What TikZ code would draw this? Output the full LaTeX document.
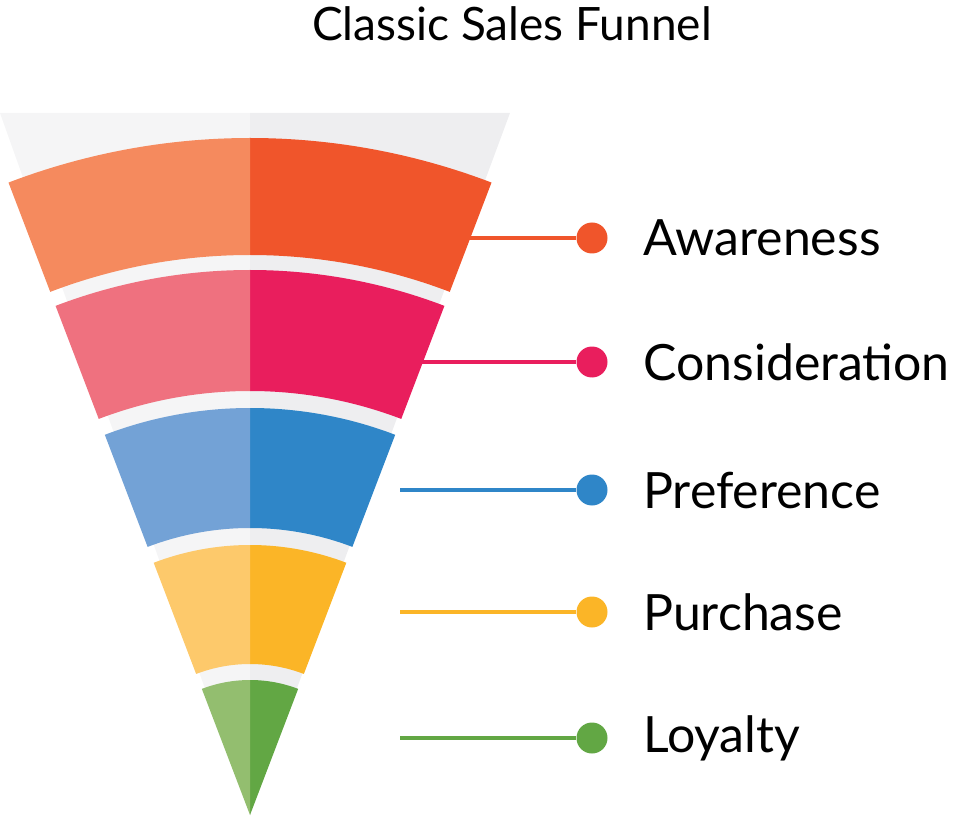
\documentclass[tikz,border=0pt]{standalone}
\usepackage{fontspec}
\setmainfont{Lato}
\begin{document}
\begin{tikzpicture}[x=1pt,y=1pt,
  conn/.style={line width=4pt},
  lbl/.style={anchor=west,font=\fontsize{50}{50}\selectfont,inner sep=0pt}]
\useasboundingbox (0,0) rectangle (980,-818);
\definecolor{grayL}{HTML}{F5F5F6}\definecolor{grayR}{HTML}{EEEEF0}
\definecolor{oL}{HTML}{F58A5E}\definecolor{oR}{HTML}{F0552B}
\definecolor{pL}{HTML}{EF717F}\definecolor{pR}{HTML}{E91E5D}
\definecolor{bL}{HTML}{73A2D6}\definecolor{bR}{HTML}{2F86C8}
\definecolor{yL}{HTML}{FDC96B}\definecolor{yR}{HTML}{FBB527}
\definecolor{gL}{HTML}{93BE6F}\definecolor{gR}{HTML}{62A744}
\node[font=\fontsize{46}{46}\selectfont] (title) at (512,-24) {Classic Sales Funnel};
\fill[grayL] (250,-815) -- (0,-113) -- (250,-113) -- cycle;
\fill[grayR] (250,-815) -- (510,-113) -- (250,-113) -- cycle;
% connectors
\foreach \y/\c/\t/\n in {238/oR/Awareness/a,362/pR/Consideration/c,490/bR/Preference/p,612/yR/Purchase/u,738/gR/Loyalty/l}{
  \coordinate (s\n) at (400,-\y);
  \node[circle,fill=\c,minimum size=31pt,inner sep=0pt] (d\n) at (592,-\y) {};
  \draw[conn,\c] (s\n) -- (d\n);
  \node[lbl] (t\n) at (643,-\y) {\t};
}
\foreach \rt/\rb/\cl/\cr in {677/560/oL/oR,545/424/pL/pR,407/287/bL/bR,270/151/yL/yR,135/0/gL/gR}{
  \fill[\cr,shift={(250,-815)}] (90:\rt pt) arc[start angle=90,end angle=69.1,radius=\rt pt] -- (69.1:\rb pt) arc[start angle=69.1,end angle=90,radius=\rb pt] -- cycle;
  \fill[\cl,shift={(250,-815)}] (90:\rt pt) arc[start angle=90,end angle=110.9,radius=\rt pt] -- (110.9:\rb pt) arc[start angle=110.9,end angle=90,radius=\rb pt] -- cycle;
}
\end{tikzpicture}
\end{document}
